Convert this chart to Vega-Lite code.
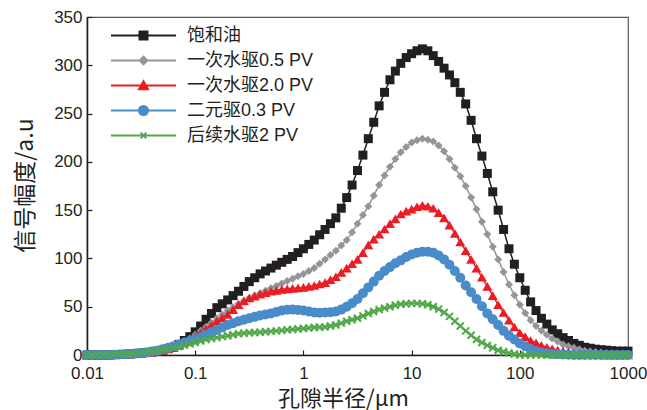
{
  "$schema": "https://vega.github.io/schema/vega-lite/v6.json",
  "width": 541,
  "height": 338,
  "autosize": "none",
  "padding": {"left": 87, "top": 17, "right": 19, "bottom": 55},
  "background": "white",
  "config": {
    "view": {"stroke": "#58595b", "strokeWidth": 1.2},
    "font": "Liberation Sans, Noto Sans CJK SC",
    "axis": {
      "grid": false,
      "domainColor": "#231f20",
      "domainWidth": 1.6,
      "tickColor": "#231f20",
      "tickWidth": 1.2,
      "tickSize": -5,
      "labelFont": "Liberation Sans",
      "labelFontSize": 17,
      "labelColor": "#231f20",
      "titleFont": "Noto Sans CJK SC",
      "titleFontSize": 22,
      "titleFontWeight": "normal",
      "titleColor": "#231f20"
    }
  },
  "data": {
    "values": [
      {"x": 0.01, "a": 0, "b": 0, "c": 0, "d": 0, "e": 0},
      {"x": 0.01122, "a": 0, "b": 0, "c": 0, "d": 0, "e": 0},
      {"x": 0.01259, "a": 0, "b": 0, "c": 0, "d": 0, "e": 0},
      {"x": 0.01413, "a": 0, "b": 0, "c": 0, "d": 0, "e": 0},
      {"x": 0.01585, "a": 0, "b": 0, "c": 0, "d": 0, "e": 0.3},
      {"x": 0.01778, "a": 0.3, "b": 0.3, "c": 0.3, "d": 0.3, "e": 0.5},
      {"x": 0.01995, "a": 0.5, "b": 0.5, "c": 0.5, "d": 0.5, "e": 0.7},
      {"x": 0.02239, "a": 0.7, "b": 0.7, "c": 0.7, "d": 0.8, "e": 1},
      {"x": 0.02512, "a": 1, "b": 1, "c": 1, "d": 1, "e": 1.3},
      {"x": 0.02818, "a": 1.5, "b": 1.5, "c": 1.5, "d": 1.5, "e": 1.7},
      {"x": 0.03162, "a": 2, "b": 2, "c": 2, "d": 2, "e": 2.2},
      {"x": 0.03548, "a": 2.5, "b": 2.5, "c": 2.5, "d": 2.7, "e": 2.8},
      {"x": 0.03981, "a": 3, "b": 3, "c": 3, "d": 3.5, "e": 3.5},
      {"x": 0.04467, "a": 4, "b": 4, "c": 4, "d": 4.5, "e": 4.5},
      {"x": 0.05012, "a": 5, "b": 5, "c": 5, "d": 6, "e": 5.5},
      {"x": 0.05623, "a": 6.5, "b": 6.5, "c": 6.5, "d": 7.5, "e": 6.5},
      {"x": 0.0631, "a": 8, "b": 8, "c": 8, "d": 9, "e": 7.5},
      {"x": 0.07079, "a": 11, "b": 11, "c": 10, "d": 11, "e": 8.7},
      {"x": 0.07943, "a": 15, "b": 14, "c": 13, "d": 13, "e": 10},
      {"x": 0.08913, "a": 19, "b": 17, "c": 16, "d": 14.5, "e": 11.5},
      {"x": 0.1, "a": 24, "b": 21, "c": 19, "d": 16, "e": 13},
      {"x": 0.1122, "a": 30, "b": 25, "c": 23, "d": 18.5, "e": 14.5},
      {"x": 0.1259, "a": 37, "b": 29, "c": 27, "d": 21, "e": 16},
      {"x": 0.1413, "a": 43, "b": 33.5, "c": 31, "d": 23.5, "e": 17},
      {"x": 0.1585, "a": 49, "b": 38, "c": 35, "d": 26, "e": 18},
      {"x": 0.1778, "a": 53, "b": 42, "c": 38.5, "d": 28.5, "e": 19},
      {"x": 0.1995, "a": 57, "b": 46, "c": 42, "d": 31, "e": 20},
      {"x": 0.2239, "a": 61.5, "b": 49.5, "c": 47, "d": 33, "e": 21},
      {"x": 0.2512, "a": 66, "b": 53, "c": 52, "d": 35, "e": 22},
      {"x": 0.2818, "a": 71, "b": 56, "c": 56, "d": 36.5, "e": 22.5},
      {"x": 0.3162, "a": 76, "b": 59, "c": 59, "d": 38, "e": 23},
      {"x": 0.3548, "a": 80, "b": 61.5, "c": 61, "d": 39.5, "e": 23.3},
      {"x": 0.3981, "a": 84, "b": 64, "c": 63, "d": 41, "e": 23.5},
      {"x": 0.4467, "a": 87, "b": 66.5, "c": 64.5, "d": 42, "e": 24},
      {"x": 0.5012, "a": 90, "b": 69, "c": 66, "d": 43, "e": 24.5},
      {"x": 0.5623, "a": 93, "b": 71.5, "c": 67, "d": 44.5, "e": 25},
      {"x": 0.631, "a": 96, "b": 74, "c": 68, "d": 46, "e": 25.5},
      {"x": 0.7079, "a": 99, "b": 76.5, "c": 68.5, "d": 46.8, "e": 26},
      {"x": 0.7943, "a": 102, "b": 79, "c": 69, "d": 47, "e": 26.5},
      {"x": 0.8913, "a": 106, "b": 81.5, "c": 69.5, "d": 46.7, "e": 27},
      {"x": 1, "a": 110, "b": 84, "c": 70, "d": 46, "e": 27.5},
      {"x": 1.122, "a": 114.5, "b": 87, "c": 71, "d": 45, "e": 28},
      {"x": 1.259, "a": 119, "b": 90, "c": 72, "d": 44, "e": 28.5},
      {"x": 1.413, "a": 124.5, "b": 94.5, "c": 73.5, "d": 43.8, "e": 28.8},
      {"x": 1.585, "a": 130, "b": 99, "c": 75, "d": 44, "e": 29},
      {"x": 1.778, "a": 136, "b": 103.5, "c": 78, "d": 44.3, "e": 30},
      {"x": 1.995, "a": 142, "b": 108, "c": 81, "d": 45, "e": 31},
      {"x": 2.239, "a": 152, "b": 113.5, "c": 85.5, "d": 47, "e": 33},
      {"x": 2.512, "a": 163, "b": 119, "c": 90, "d": 50, "e": 35},
      {"x": 2.818, "a": 176, "b": 127, "c": 94.5, "d": 53.5, "e": 36.5},
      {"x": 3.162, "a": 191, "b": 136, "c": 99, "d": 58, "e": 38},
      {"x": 3.548, "a": 207, "b": 145, "c": 106, "d": 64, "e": 40.5},
      {"x": 3.981, "a": 224, "b": 154, "c": 114, "d": 70, "e": 43},
      {"x": 4.467, "a": 241, "b": 165, "c": 120, "d": 76, "e": 45},
      {"x": 5.012, "a": 258, "b": 176, "c": 125, "d": 82, "e": 47},
      {"x": 5.623, "a": 272, "b": 186, "c": 130.5, "d": 87, "e": 48.5},
      {"x": 6.31, "a": 285, "b": 195, "c": 136, "d": 91, "e": 50},
      {"x": 7.079, "a": 294, "b": 203, "c": 141, "d": 95, "e": 51.5},
      {"x": 7.943, "a": 302, "b": 210, "c": 146, "d": 98, "e": 52.5},
      {"x": 8.913, "a": 308, "b": 215.5, "c": 149, "d": 101.5, "e": 53},
      {"x": 10, "a": 312, "b": 220, "c": 151, "d": 104, "e": 53.5},
      {"x": 11.22, "a": 315, "b": 222.5, "c": 153.5, "d": 106, "e": 53.5},
      {"x": 12.59, "a": 317, "b": 224, "c": 155, "d": 107, "e": 53},
      {"x": 14.13, "a": 315, "b": 223, "c": 154, "d": 107, "e": 52},
      {"x": 15.85, "a": 310, "b": 221, "c": 152, "d": 106, "e": 50},
      {"x": 17.78, "a": 304, "b": 217, "c": 147.5, "d": 103, "e": 47.5},
      {"x": 19.95, "a": 297, "b": 211, "c": 142, "d": 99, "e": 44},
      {"x": 22.39, "a": 290, "b": 203, "c": 134.5, "d": 93.5, "e": 40},
      {"x": 25.12, "a": 282, "b": 194, "c": 126, "d": 87, "e": 35},
      {"x": 28.18, "a": 272, "b": 185, "c": 117, "d": 80, "e": 30},
      {"x": 31.62, "a": 260, "b": 175, "c": 108, "d": 72, "e": 25},
      {"x": 35.48, "a": 243, "b": 163, "c": 99, "d": 65, "e": 20.5},
      {"x": 39.81, "a": 224, "b": 151, "c": 90, "d": 58, "e": 16},
      {"x": 44.67, "a": 206, "b": 138, "c": 80.5, "d": 50.5, "e": 13},
      {"x": 50.12, "a": 188, "b": 125, "c": 71, "d": 43, "e": 10},
      {"x": 56.23, "a": 169, "b": 112, "c": 61.5, "d": 37, "e": 7.5},
      {"x": 63.1, "a": 150, "b": 99, "c": 52, "d": 31, "e": 5},
      {"x": 70.79, "a": 130, "b": 86, "c": 44, "d": 25, "e": 3.3},
      {"x": 79.43, "a": 110, "b": 73, "c": 36, "d": 20, "e": 2},
      {"x": 89.13, "a": 94, "b": 62, "c": 29, "d": 16, "e": 1},
      {"x": 100, "a": 80, "b": 52, "c": 23, "d": 12, "e": 0},
      {"x": 112.2, "a": 67, "b": 43.5, "c": 19, "d": 9, "e": 0},
      {"x": 125.9, "a": 55, "b": 36, "c": 15, "d": 6, "e": 0},
      {"x": 141.3, "a": 46, "b": 30, "c": 12.5, "d": 4, "e": 0},
      {"x": 158.5, "a": 38, "b": 25, "c": 10, "d": 2.5, "e": 0},
      {"x": 177.8, "a": 32, "b": 21, "c": 8, "d": 1.7, "e": 0},
      {"x": 199.5, "a": 26, "b": 17, "c": 6.5, "d": 1, "e": 0},
      {"x": 223.9, "a": 22, "b": 14, "c": 5, "d": 0.7, "e": 0},
      {"x": 251.2, "a": 18, "b": 11, "c": 4, "d": 0.5, "e": 0},
      {"x": 281.8, "a": 15, "b": 9, "c": 3, "d": 0.3, "e": 0},
      {"x": 316.2, "a": 12, "b": 7.5, "c": 2, "d": 0, "e": 0},
      {"x": 354.8, "a": 10, "b": 6, "c": 1.5, "d": 0, "e": 0},
      {"x": 398.1, "a": 8, "b": 4.5, "c": 1, "d": 0, "e": 0},
      {"x": 446.7, "a": 7, "b": 3.7, "c": 0.7, "d": 0, "e": 0},
      {"x": 501.2, "a": 6, "b": 3, "c": 0.5, "d": 0, "e": 0},
      {"x": 562.3, "a": 5.5, "b": 2.5, "c": 0.3, "d": 0, "e": 0},
      {"x": 631, "a": 5, "b": 2, "c": 0, "d": 0, "e": 0},
      {"x": 707.9, "a": 4.5, "b": 1.7, "c": 0, "d": 0, "e": 0},
      {"x": 794.3, "a": 4, "b": 1.5, "c": 0, "d": 0, "e": 0},
      {"x": 891.3, "a": 4, "b": 1.2, "c": 0, "d": 0, "e": 0},
      {"x": 1000, "a": 4, "b": 1, "c": 0, "d": 0, "e": 0}
    ]
  },
  "transform": [{"fold": ["a", "b", "c", "d", "e"], "as": ["key", "y"]}],
  "encoding": {
    "x": {
      "field": "x", "type": "quantitative",
      "scale": {"type": "log", "domain": [0.01, 1000], "nice": false},
      "axis": {"values": [0.01, 0.1, 1, 10, 100, 1000], "format": "~g", "labelPadding": 15, "title": "孔隙半径/μm", "titleX": 256, "titleY": 33, "titleBaseline": "top", "labelFlush": false}
    },
    "y": {
      "field": "y", "type": "quantitative",
      "scale": {"domain": [0, 350], "nice": false},
      "axis": {"values": [0, 50, 100, 150, 200, 250, 300, 350], "labelPadding": 10, "title": "信号幅度/a.u", "titleX": -62, "titleY": 168, "titleBaseline": "middle", "titleFontSize": 23}
    }
  },
  "layer": [
    {
      "mark": {"type": "line", "strokeWidth": 1.5},
      "encoding": {
        "color": {
          "field": "key", "type": "nominal",
          "scale": {"domain": ["a", "b", "c", "d", "e"], "range": ["#231f20", "#939598", "#ed1c24", "#4a8bc9", "#50a848"]},
          "legend": {
            "orient": "none", "legendX": 46, "legendY": 8, "title": null, "padding": 0,
            "labelExpr": "datum.label === 'a' ? '饱和油' : datum.label === 'b' ? '一次水驱0.5 PV' : datum.label === 'c' ? '一次水驱2.0 PV' : datum.label === 'd' ? '二元驱0.3 PV' : '后续水驱2 PV'",
            "labelFont": "Liberation Sans, Noto Sans CJK SC", "labelFontSize": 18, "labelColor": "#231f20",
            "labelOffset": 33, "symbolSize": 361, "symbolStrokeWidth": 2, "rowPadding": 5,
            "encode": {
              "symbols": {
                "update": {
                  "shape": {"signal": "datum.value === 'a' ? 'M-3.42,0H3.42M-0.42,-0.42H0.42V0.42H-0.42Z' : datum.value === 'b' ? 'M-3.42,0H3.42M-0.4,0L0,-0.4L0.4,0L0,0.4Z' : datum.value === 'c' ? 'M-3.42,0H3.42M-0.48,0.4H0.48L0,-0.45Z' : datum.value === 'd' ? 'M-3.42,0H3.42M0.48,0A0.48,0.48,0,1,1,-0.48,0A0.48,0.48,0,1,1,0.48,0' : 'M-3.42,0H3.42M-0.3,-0.3L0.3,0.3M-0.3,0.3L0.3,-0.3'"},
                  "fill": {"signal": "datum.value === 'a' ? '#231f20' : datum.value === 'b' ? '#939598' : datum.value === 'c' ? '#ed1c24' : datum.value === 'd' ? '#4a8bc9' : 'transparent'"},
                  "strokeWidth": {"value": 2},
                  "opacity": {"value": 1}
                }
              }
            }
          }
        }
      }
    },
    {
      "transform": [{"filter": "datum.key === 'a'"}],
      "mark": {"type": "point", "shape": "square", "filled": true, "opacity": 1, "size": 81, "color": "#231f20"}
    },
    {
      "transform": [{"filter": "datum.key === 'b'"}],
      "mark": {"type": "point", "shape": "diamond", "filled": true, "opacity": 1, "size": 64, "color": "#939598"}
    },
    {
      "transform": [{"filter": "datum.key === 'c'"}],
      "mark": {"type": "point", "shape": "triangle-up", "filled": true, "opacity": 1, "size": 100, "color": "#ed1c24"}
    },
    {
      "transform": [{"filter": "datum.key === 'd'"}],
      "mark": {"type": "point", "shape": "circle", "filled": true, "opacity": 1, "size": 100, "color": "#4a8bc9"}
    },
    {
      "transform": [{"filter": "datum.key === 'e'"}],
      "mark": {"type": "point", "shape": "M-1,-1L1,1M-1,1L1,-1", "filled": false, "opacity": 1, "size": 49, "strokeWidth": 2, "color": "#50a848"}
    }
  ]
}
